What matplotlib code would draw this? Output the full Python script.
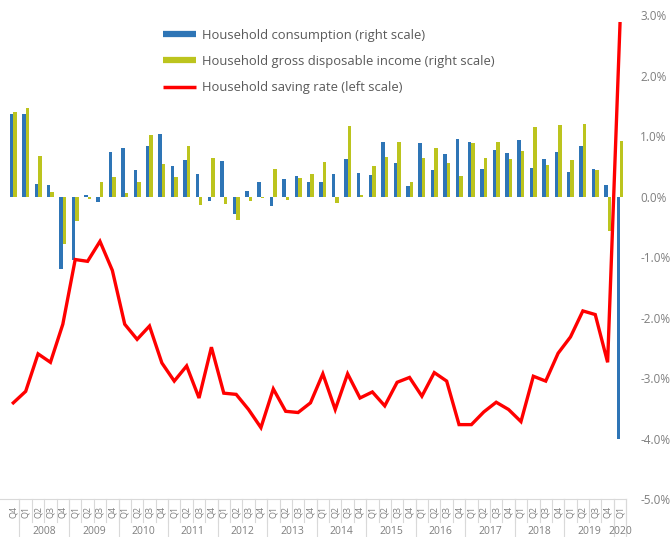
import numpy as np
import matplotlib
matplotlib.use("Agg")
import matplotlib.pyplot as plt
from matplotlib.lines import Line2D
import matplotlib.transforms as mtransforms

plt.rcParams['font.family'] = ['Open Sans', 'DejaVu Sans']

# quarters 2007Q4 .. 2020Q1
quarters = ['Q4'] + ['Q1', 'Q2', 'Q3', 'Q4'] * 12 + ['Q1']
years = ['2008', '2009', '2010', '2011', '2012', '2013', '2014', '2015',
         '2016', '2017', '2018', '2019', '2020']

# household consumption, q-o-q % (right scale)
consumption = [1.37, 1.37, 0.21, 0.19, -1.20, -1.05, 0.03, -0.09, 0.73, 0.80,
               0.44, 0.84, 1.04, 0.51, 0.61, 0.37, -0.07, 0.59, -0.28, 0.09,
               0.25, -0.15, 0.29, 0.34, 0.25, 0.25, 0.37, 0.63, 0.39, 0.35,
               0.90, 0.55, 0.17, 0.89, 0.44, 0.70, 0.96, 0.91, 0.46, 0.77,
               0.72, 0.94, 0.48, 0.63, 0.73, 0.41, 0.84, 0.45, 0.20, -4.00]
# household gross disposable income, q-o-q % (right scale)
income = [1.40, 1.47, 0.68, 0.07, -0.79, -0.41, -0.04, 0.25, 0.33, 0.06,
          0.25, 1.02, 0.54, 0.32, 0.83, -0.14, 0.64, -0.13, -0.38, -0.08,
          -0.02, 0.45, -0.05, 0.31, 0.38, 0.58, -0.11, 1.16, 0.02, 0.50,
          0.66, 0.90, 0.25, 0.64, 0.81, 0.56, 0.34, 0.89, 0.64, 0.91,
          0.63, 0.75, 1.15, 0.53, 1.19, 0.60, 1.20, 0.44, -0.57, 0.92]
# household saving rate (left scale, drawn in same units as read)
saving = [-3.41, -3.22, -2.60, -2.74, -2.11, -1.04, -1.07, -0.74, -1.22, -2.11,
          -2.36, -2.14, -2.75, -3.05, -2.80, -3.33, -2.49, -3.25, -3.27, -3.52,
          -3.82, -3.18, -3.55, -3.57, -3.41, -2.93, -3.52, -2.93, -3.33, -3.23,
          -3.46, -3.07, -2.99, -3.30, -2.91, -3.05, -3.77, -3.77, -3.56, -3.40,
          -3.52, -3.72, -2.97, -3.05, -2.59, -2.32, -1.89, -1.95, -2.74, 2.86]

blue = '#2e75b6'
green = '#bcc41e'
red = '#ff0000'
grey = '#7f7f7f'
linecol = '#d9d9d9'

x = np.arange(len(quarters))
W, H = 672, 537
fig = plt.figure(figsize=(W / 100, H / 100), dpi=100)
left, right = 7.1 / W, 626.2 / W
bottom, top = 1 - 499 / H, 1 - 15.2 / H

ax2 = fig.add_axes([left, bottom, right - left, top - bottom])
ax = ax2.twinx()
ax.set_zorder(ax2.get_zorder() + 1)
ax.patch.set_visible(False)

bw = 0.28
ax2.bar(x - bw / 2, consumption, bw, color=blue, zorder=2)
ax2.bar(x + bw / 2, income, bw, color=green, zorder=2)
ax.plot(x, saving, color=red, lw=2.4, solid_joinstyle='miter')

for a in (ax, ax2):
    a.set_xlim(-0.5, len(x) - 0.5)
    a.set_ylim(-5, 3)
    a.set_xticks([])
    for s in a.spines.values():
        s.set_visible(False)

# left scale cropped out of the picture
ax.yaxis.set_visible(False)
ax2.yaxis.tick_right()
ax2.set_yticks(np.arange(-5, 4, 1))
ax2.yaxis.set_major_formatter(lambda v, p: f'{v:.1f}%')
ax2.tick_params(axis='y', length=0, pad=10, labelsize=8.5, labelcolor=grey)

# category axis (quarters and years)
tr = mtransforms.blended_transform_factory(ax2.transData, ax2.transAxes)
ph = (top - bottom) * H
def fy(px):
    return -px / ph

ax2.plot([-1.2, len(x) - 0.5], [0, 0], color=linecol, lw=0.8,
         transform=tr, clip_on=False)
for i, q in enumerate(quarters):
    ax2.text(i, fy(13), q, rotation=90, ha='center', va='center',
             fontsize=6.5, color=grey, transform=tr)
    ax2.plot([i + 0.5, i + 0.5], [0, fy(23)], color=linecol, lw=0.8,
             transform=tr, clip_on=False)
starts = [1 + 4 * k for k in range(12)] + [49]
ends = [4 + 4 * k for k in range(12)] + [49]
for yr, s, e in zip(years, starts, ends):
    ax2.text((s + e) / 2, fy(32.5), yr, ha='center', va='center',
             fontsize=7.5, color=grey, transform=tr)
    ax2.plot([e + 0.5, e + 0.5], [0, fy(40)], color=linecol, lw=0.8,
             transform=tr, clip_on=False)
ax2.plot([0.5, 0.5], [0, fy(40)], color=linecol, lw=0.8,
         transform=tr, clip_on=False)

handles = [Line2D([], [], color=blue, lw=4.5, solid_capstyle='butt'),
           Line2D([], [], color=green, lw=4.5, solid_capstyle='butt'),
           Line2D([], [], color=red, lw=2.5, solid_capstyle='butt')]
labels = ['Household consumption (right scale)',
          'Household gross disposable income (right scale)',
          'Household saving rate (left scale)']
fig.legend(handles, labels, loc='upper left',
           bbox_to_anchor=(163 / W, 1 - 29 / H), frameon=False,
           fontsize=9.4, handlelength=2.55, handletextpad=0.46,
           labelspacing=1.0, borderpad=0, borderaxespad=0,
           labelcolor='#595959')

fig.savefig('out.png', dpi=100)
